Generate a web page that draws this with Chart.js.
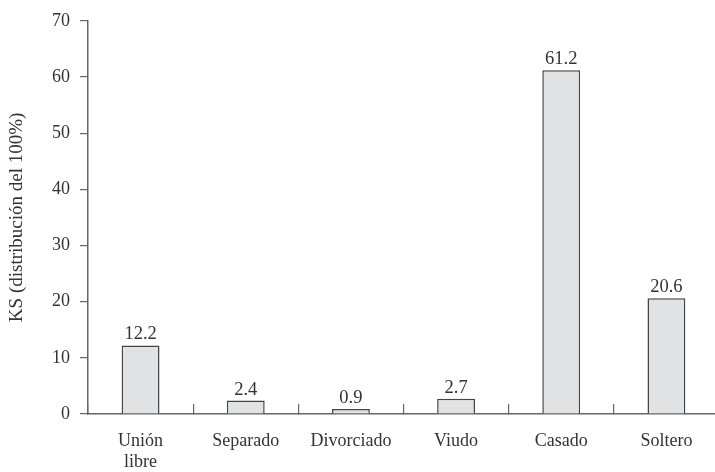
<!DOCTYPE html>
<html>
<head>
<meta charset="utf-8">
<script src="https://cdn.jsdelivr.net/npm/chart.js@4"></script>
<style>
  html, body { margin: 0; padding: 0; background: #fff; overflow: hidden; }
  #wrap { width: 719px; height: 472px; }
</style>
</head>
<body>
<div id="wrap"><canvas id="chartEstado"></canvas></div>
<script>
// categorias y valores (KS, distribucion del 100%)
const categorias = [["Unión", "libre"], "Separado", "Divorciado", "Viudo", "Casado", "Soltero"];
const valores = [12.2, 2.4, 0.9, 2.7, 61.2, 20.6];
const yMax = 70;
const yPaso = 10;

const colorTexto = "#333";
const colorEje = "#666";
const fuente = "'Liberation Serif', 'DejaVu Serif', serif";

// etiquetas de valor sobre cada barra
const etiquetasValor = {
  id: "etiquetasValor",
  afterDatasetsDraw(chart) {
    const ctx = chart.ctx;
    const meta = chart.getDatasetMeta(0);
    ctx.save();
    ctx.font = "18.5px " + fuente;
    ctx.fillStyle = colorTexto;
    ctx.textAlign = "center";
    ctx.textBaseline = "alphabetic";
    meta.data.forEach((bar, i) => {
      ctx.fillText(valores[i].toFixed(1), bar.x, bar.y - 6);
    });
    ctx.restore();
  },
};

const ctx = document.getElementById("chartEstado").getContext("2d");

const chartEstado = new Chart(ctx, {
  type: "bar",
  data: {
    labels: categorias,
    datasets: [
      {
        label: "KS",
        data: valores,
        backgroundColor: "#e1e2e4",
        borderColor: "#444",
        borderWidth: 1.5,
        barPercentage: 0.36,
        categoryPercentage: 1,
      },
    ],
  },
  options: {
    responsive: true,
    maintainAspectRatio: false,
    animation: false,
    layout: { padding: { top: 12, right: 0, bottom: 0, left: 0 } },
    plugins: {
      legend: { display: false },
      tooltip: { enabled: false },
    },
    scales: {
      x: {
        afterFit(scale) { scale.height = 58; },
        grid: {
          drawOnChartArea: false,
          drawTicks: true,
          tickLength: -10,
          color: colorEje,
          lineWidth: 1.2,
        },
        border: { display: true, color: colorEje, width: 1.5 },
        ticks: {
          color: colorTexto,
          font: { family: fuente, size: 18, lineHeight: 1.2 },
          padding: 26,
          maxRotation: 0,
          autoSkip: false,
        },
      },
      y: {
        min: 0,
        max: yMax,
        afterFit(scale) { scale.width = 88; },
        grid: {
          drawOnChartArea: false,
          drawTicks: true,
          tickLength: 8,
          color: colorEje,
          lineWidth: 1.2,
        },
        border: { display: true, color: colorEje, width: 1.5 },
        ticks: {
          stepSize: yPaso,
          color: colorTexto,
          font: { family: fuente, size: 18 },
          padding: 10,
        },
        title: {
          display: true,
          text: "KS (distribución del 100%)",
          color: colorTexto,
          font: { family: fuente, size: 19 },
          padding: { top: 6, bottom: 0 },
        },
      },
    },
  },
  plugins: [etiquetasValor],
});
</script>
</body>
</html>
